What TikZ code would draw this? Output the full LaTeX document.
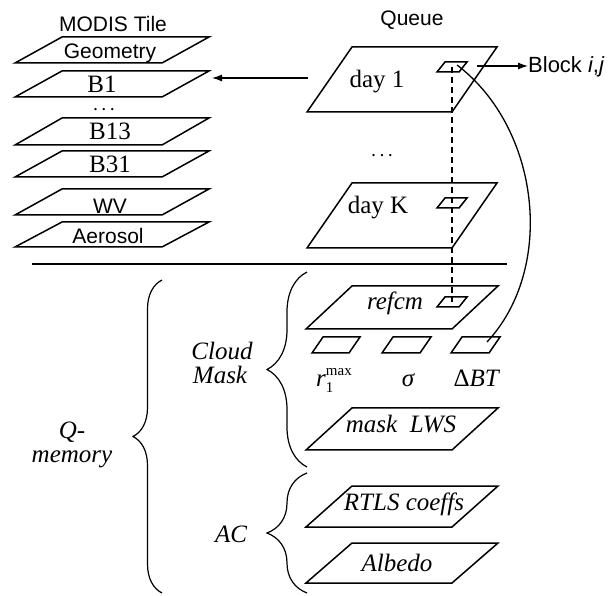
\documentclass[tikz,border=0pt]{standalone}
\usepackage{fontspec}
\setmainfont{Liberation Serif}
\setsansfont{Liberation Sans}
\usetikzlibrary{decorations.pathreplacing,arrows.meta,calc}
\tikzset{
  plg/.style={line width=1.5pt, line join=miter},
  ss/.style={font=\sffamily\fontsize{21}{22}\selectfont, inner sep=0pt},
  tm/.style={font=\fontsize{25}{26}\selectfont, inner sep=0pt},
  itx/.style={font=\itshape\fontsize{25}{26}\selectfont, inner sep=0pt},
  dotsx/.style={font=\bfseries\fontsize{14}{14}\selectfont, inner sep=0pt},
  brc/.style={decorate, line width=1.2pt},
  conn/.style={line width=1.3pt},
}
\newcommand{\plgram}[6]{% name, x bottom-left, y bottom, width, height, slant
  \draw[plg] (#2,#3) -- ++(#4,0) -- ++(#6,-#5) -- ++(-#4,0) -- cycle;
  \coordinate (#1) at ({#2+#4/2+#6/2},{#3-#5/2});}
\newcommand{\threedots}{.\hspace{5pt}.\hspace{5pt}.}
\begin{document}
\begin{tikzpicture}[x=1pt,y=-1pt]
\useasboundingbox (0,0) rectangle (614,596);
% MODIS tile stack
\plgram{geo}{15}{63}{147}{26}{47}
\plgram{bone}{15}{97}{147}{26}{47}
\plgram{bthirteen}{15}{145}{147}{27}{47}
\plgram{bthirtyone}{15}{177}{147}{26}{47}
\plgram{wv}{15}{215}{147}{26}{47}
\plgram{aer}{15}{247}{147}{25}{47}
\node[ss,anchor=base] (tmodis) at (113,32) {MODIS Tile};
\node[ss,anchor=base] (tgeo) at (110,59) {Geometry};
\node[tm,anchor=base] (tbone) at (102,93) {B1};
\node[dotsx,anchor=base] (tdots) at (104,111) {\threedots};
\node[tm,anchor=base] (tb13) at (110,140) {B13};
\node[tm,anchor=base] (tb31) at (110,173) {B31};
\node[ss,anchor=base] (twv) at (110,214) {WV};
\node[ss,anchor=base] (taer) at (108,244) {Aerosol};
% Queue
\node[ss,anchor=base] (tqueue) at (412,26) {Queue};
\plgram{dayone}{307}{112}{145}{65}{45}
\plgram{dayk}{307}{248}{145}{65}{45}
\node[tm,anchor=base] (tday1) at (377,88) {day 1};
\node[dotsx,anchor=base] (tqdots) at (382,157) {\threedots};
\node[tm,anchor=base] (tdayk) at (378,214) {day K};
\plgram{blkone}{437}{72}{22}{10}{8}
\plgram{blkk}{437}{208}{22}{10}{8}
% divider
\coordinate (divl) at (32,264);
\coordinate (divr) at (507,264);
\draw[line width=1.4pt] (divl) -- (divr);
% lower stack
\plgram{refcm}{306}{329}{146}{43}{46}
\plgram{blkr}{437}{307}{22}{10}{8}
\node[itx,anchor=base] (trefcm) at (395,310) {refcm};
\plgram{sone}{312}{353}{37}{16}{11}
\plgram{stwo}{382}{353}{38}{16}{11}
\plgram{sthree}{451}{353}{38}{16}{11}
\node[tm,anchor=base] (tr) at (334,387) {\textit{r}\makebox[0pt][l]{\raisebox{-6pt}{\fontsize{15}{15}\selectfont 1}}\raisebox{11pt}{\fontsize{15}{15}\selectfont max}};
\node[itx,anchor=base] (tsig) at (408,387) {σ};
\node[tm,anchor=base] (tdbt) at (477,387) {Δ\textit{BT}};
\plgram{mask}{306}{450}{146}{42}{46}
\node[itx,anchor=base] (tmask) at (401,433) {mask\ \ LWS};
\plgram{rtls}{306}{527}{146}{41}{46}
\node[itx,anchor=base] (trtls) at (404,511) {RTLS coeffs};
\plgram{alb}{306}{583}{146}{40}{46}
\node[itx,anchor=base] (talb) at (397,571) {Albedo};
% braces and group labels
\draw[brc, decoration={brace,amplitude=40pt}] (307,467) -- (307,272);
\draw[brc, decoration={brace,amplitude=40pt}] (307,593) -- (307,473);
\draw[brc, decoration={brace,amplitude=29pt}] (162,593) -- (162,280);
\node[itx,anchor=base] (tcloud) at (222,360) {Cloud};
\node[itx,anchor=base] (tmaskl) at (220,384) {Mask};
\node[itx,anchor=base] (tac) at (231,542) {AC};
\node[itx, align=center, font=\itshape\fontsize{25}{24}\selectfont] (tq) at (72,445) {Q-\\memory};
% connectors
\coordinate (arrfrom) at (308,78);
\coordinate (arrto) at (212,78);
\draw[conn,-{Latex[length=10pt,width=7pt]}] (arrfrom) -- (arrto);
\node[ss,anchor=base west,font=\sffamily\fontsize{22}{23}\selectfont] (tblock) at (528,73) {Block \textit{i},\textit{j}};
\coordinate (blkarrfrom) at (477,66);
\draw[conn,-{Latex[length=10pt,width=7pt]}] (blkarrfrom) -- (tblock.west |- blkarrfrom);
\draw[conn, dash pattern=on 6pt off 4pt] (blkone) -- (blkr);
\coordinate (cstart) at (457,65);
\coordinate (cend) at (487,342);
\draw[conn] (cstart) .. controls (540,128) and (556,268) .. (cend);
\end{tikzpicture}
\end{document}
